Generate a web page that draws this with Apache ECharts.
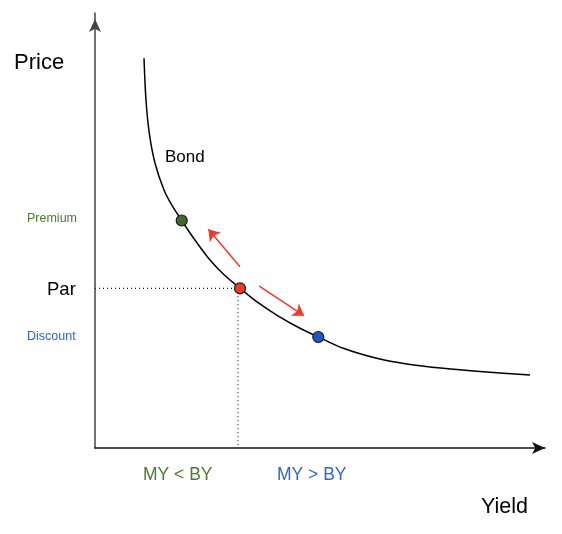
<!DOCTYPE html>
<html>
<head>
<meta charset="utf-8">
<title>Bond price vs yield</title>
<script src="https://cdn.jsdelivr.net/npm/echarts@6/dist/echarts.min.js"></script>
<style>
  html, body { margin: 0; padding: 0; background: #fff; }
  #chart { width: 562px; height: 534px; }
</style>
</head>
<body>
<div id="chart"></div>
<script>
// price/yield curve, in axis units (0..100 on both axes)
var curveYield = [10.89, 11.33, 12.07, 13.33, 15.33, 17.11, 19.27, 21.11, 23.33, 25.56, 28.51,
                  32.22, 35.93, 40.38, 45.56, 49.62, 55.18, 62.6, 69.27, 77.4, 86.29, 96.67];
var curvePrice = [89.59, 80.0, 72.34, 65.52, 59.31, 55.75, 52.3, 49.43, 46.21, 43.22, 40.0,
                  36.71, 33.63, 30.57, 27.52, 25.52, 22.92, 20.62, 19.31, 18.32, 17.54, 16.78];

// marked bonds: premium, par, discount
var pointNames = ['Premium', 'Par', 'Discount'];
var pointYield = [19.27, 32.22, 49.62];
var pointPrice = [52.3, 36.71, 25.52];
var pointColors = ['#3d6b29', '#ea3b2c', '#2256c8'];

// red arrows [fromYield, fromPrice, toYield, toPrice]
var arrows = [
  [32.22, 41.68, 25.18, 50.3],
  [36.51, 37.24, 46.44, 30.41]
];

// dotted guide lines to par
var parPrice = 36.71;
var parYield = 31.78;

var FONT = '"Liberation Sans", Arial, sans-serif';

var chart = echarts.init(document.getElementById('chart'));

var curveData = [];
for (var i = 0; i < curveYield.length; i++) {
  curveData.push([curveYield[i], curvePrice[i]]);
}

var pointData = [];
for (var j = 0; j < pointNames.length; j++) {
  pointData.push({
    name: pointNames[j],
    value: [pointYield[j], pointPrice[j]],
    itemStyle: { color: pointColors[j] }
  });
}

var arrowData = arrows.map(function (a) {
  return { coords: [[a[0], a[1]], [a[2], a[3]]] };
});

function txt(x, y, s, size, color) {
  return {
    type: 'text', x: x, y: y,
    style: { text: s, fontSize: size, fill: color || '#000', fontFamily: FONT, verticalAlign: 'middle' }
  };
}

chart.setOption({
  animation: false,
  grid: { left: 95, right: 17, top: 13, bottom: 86 },
  xAxis: {
    type: 'value', min: 0, max: 100,
    axisLine: { lineStyle: { color: '#111', width: 1.5 }, symbol: ['none', 'arrow'], symbolSize: [9, 13], symbolOffset: [0, 0] },
    axisTick: { show: false }, axisLabel: { show: false }, splitLine: { show: false }
  },
  yAxis: {
    type: 'value', min: 0, max: 100,
    axisLine: { show: true, lineStyle: { color: '#444', width: 1.5 }, symbol: ['none', 'arrow'], symbolSize: [9, 13], symbolOffset: [0, -6] },
    axisTick: { show: false }, axisLabel: { show: false }, splitLine: { show: false }
  },
  series: [
    {
      type: 'line', data: [[0, parPrice], [parYield + 0.4, parPrice]],
      symbol: 'none', silent: true,
      lineStyle: { color: '#222', width: 1.2, type: [1, 3] }
    },
    {
      type: 'line', data: [[parYield, parPrice], [parYield, 0]],
      symbol: 'none', silent: true,
      lineStyle: { color: '#222', width: 1.2, type: [1, 3] }
    },
    {
      type: 'line', data: curveData, smooth: 0.3,
      symbol: 'none',
      lineStyle: { color: '#000', width: 1.5 }
    },
    {
      type: 'lines', coordinateSystem: 'cartesian2d', data: arrowData,
      symbol: ['none', 'arrow'], symbolSize: 11,
      lineStyle: { color: '#ee3a2a', width: 1.5, opacity: 1 }
    },
    {
      type: 'scatter', data: pointData, symbolSize: 11, z: 5,
      itemStyle: { borderColor: '#1a1a1a', borderWidth: 1.2, opacity: 1 }
    }
  ],
  graphic: [
    txt(14, 63, 'Price', 22),
    txt(481, 507, 'Yield', 21.5),
    txt(165, 157, 'Bond', 17),
    txt(27, 219, 'Premium', 12.5, '#4a7c30'),
    txt(47, 290, 'Par', 18.5),
    txt(27, 337, 'Discount', 12.5, '#2f62d0'),
    txt(143, 475, 'MY < BY', 17.5, '#4a7c30'),
    txt(277, 475, 'MY > BY', 17.5, '#3563d3')
  ]
});
</script>
</body>
</html>
